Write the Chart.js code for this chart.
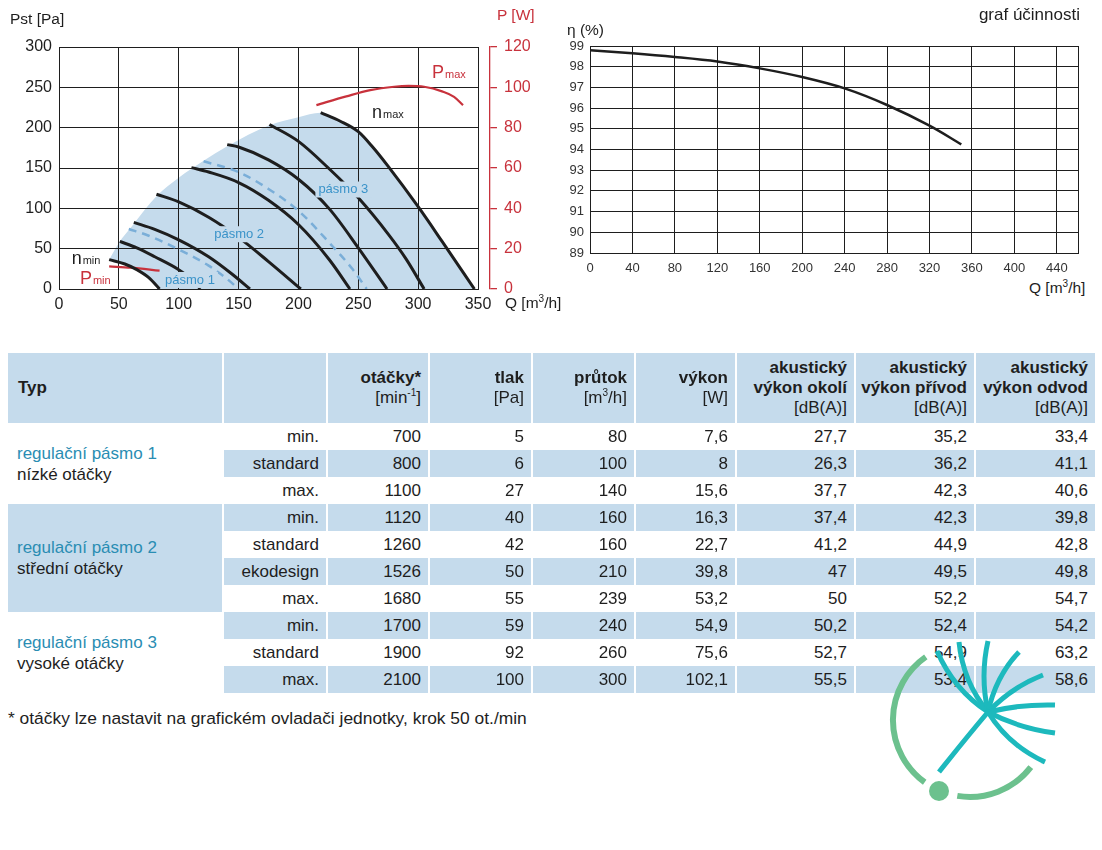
<!DOCTYPE html>
<html lang="cs">
<head>
<meta charset="utf-8">
<title>Charakteristika ventilátoru</title>
<script src="https://cdn.jsdelivr.net/npm/chart.js@4.4.1/dist/chart.umd.min.js"></script>
<style>
  body { margin: 0; background: #fff; font-family: "Liberation Sans", Arial, sans-serif; color: #1e1e1e; }
  #page { position: relative; width: 1102px; height: 850px; overflow: hidden; }
  canvas { position: absolute; }
  .lbl { position: absolute; font-size: 15.5px; line-height: 20px; white-space: nowrap; }
  .red { color: #c8323c; }
  #params { position: absolute; left: 8px; top: 353px; width: 1087px; table-layout: fixed;
            border-collapse: separate; border-spacing: 0; font-size: 17px; }
  #params th, #params td { border-right: 2px solid #fff; padding: 0 7px 0 0; text-align: right;
            vertical-align: middle; white-space: nowrap; overflow: hidden; }
  #params th:last-child, #params td:last-child { border-right: 0; }
  #params th { height: 70px; background: #c5dbec; line-height: 20px; }
  #params th .unit { font-weight: normal; }
  #params th.typ { text-align: left; padding-left: 10px; }
  #params td { height: 27px; line-height: 20px; }
  #params td.grp { text-align: left; padding-left: 9px; line-height: 21px; }
  #params .blue { background: #c5dbec; }
  #params .grpname { color: #2a8db3; }
  sup { font-size: 10px; line-height: 0; }
  #note { position: absolute; left: 8px; top: 708px; font-size: 17.4px; line-height: 20px; }
  #logo { position: absolute; left: 0; top: 0; pointer-events: none; }
</style>
</head>
<body>
<div id="page">
  <canvas id="fan" width="560" height="320" style="left:0;top:0"></canvas>
  <canvas id="eff" width="542" height="275" style="left:560px;top:0"></canvas>

  <div class="lbl" style="left:10px;top:9px">Pst [Pa]</div>
  <div class="lbl red" style="left:497px;top:5px">P [W]</div>
  <div class="lbl" style="left:505px;top:293px">Q [m<sup>3</sup>/h]</div>
  <div class="lbl" style="left:567px;top:20px">η (%)</div>
  <div class="lbl" style="right:22px;top:5px;font-size:17px">graf účinnosti</div>
  <div class="lbl" style="left:1029px;top:278px">Q [m<sup>3</sup>/h]</div>

  <table id="params"></table>
  <div id="note">* otáčky lze nastavit na grafickém ovladači jednotky, krok 50 ot./min</div>

  <svg id="logo" width="1102" height="850" viewBox="0 0 1102 850">
    <g fill="none" stroke="#6cc18e" stroke-width="6">
      <path d="M925.8,656.9 A77,77 0 0 0 924.7,782.3"/>
      <path d="M957.3,795.9 A77,77 0 0 0 1030.8,767.2"/>
    </g>
    <circle cx="939" cy="791" r="10" fill="#6cc18e"/>
    <g fill="none" stroke="#1db9bd" stroke-width="5">
      <path d="M988,712 Q954,690 937,651"/>
      <path d="M988,712 Q963,682 959,642"/>
      <path d="M988,712 Q980,676 988,641"/>
      <path d="M988,712 Q996,676 1019,652"/>
      <path d="M988,712 Q1012,687 1043,675"/>
      <path d="M988,712 Q1021,704 1055,705"/>
      <path d="M988,712 Q1018,728 1055,733"/>
      <path d="M988,712 Q1008,745 1045,762"/>
      <path d="M988,712 Q966,738 939,772"/>
    </g>
  </svg>
</div>

<script>
// ---- fan chart data: Q [m3/h], Pst [Pa] ----
const envelope = [[41.9, 36.4], [50.8, 59], [58.3, 73], [62.5, 81], [81.4, 115], [100, 138],
                  [110.6, 149], [120.8, 159], [140.5, 177], [175.8, 203], [200, 213], [218.6, 218.6]];
const nMin   = [[41.9, 36.4], [55, 31], [65, 24], [75, 14], [84, 0]];
const speed2 = [[50.8, 59], [65, 51], [80, 40], [100, 24], [110, 13], [118, 0]];
const band1  = [[58.3, 74.4], [75, 66], [100, 49], [125, 29], [140, 13], [150, 0]];
const speed3 = [[62.5, 82.6], [80, 74], [100, 61], [125, 40], [145, 18], [159.5, 0]];
const speed4 = [[81.4, 117.5], [100, 108], [125, 89], [150, 64], [175, 34], [202, 0]];
const speed5 = [[110.6, 150.5], [125, 145], [150, 132], [175, 110], [200, 80], [226, 36], [243, 0]];
const band2  = [[120.8, 158.3], [150, 145], [175, 124], [200, 97], [226, 57], [245, 25], [257, 0]];
const speed6 = [[140.5, 179], [150, 176], [175, 160], [200, 136], [226, 99], [250, 51], [274, 0]];
const speed7 = [[175.8, 204], [200, 183], [225, 150], [250, 113], [275, 68], [290, 37], [305, 0]];
const nMax   = [[218.6, 218.6], [235, 208], [250, 195], [262, 176], [275, 152], [300, 102], [320, 59], [347, 0]];

// power curves: Q [m3/h], P [W]
const pMax = [[215, 91.2], [240, 95.5], [260, 98.6], [280, 100.3], [292, 100.7], [305, 100.3], [320, 98], [330, 95.3], [337.5, 91.2]];
const pMin = [[41.9, 11.2], [60, 10.6], [84, 9.1]];

// ---- efficiency chart data ----
const effQ   = [0, 40, 80, 120, 160, 200, 240, 280, 320, 350];
const effVal = [98.8, 98.65, 98.47, 98.25, 97.92, 97.5, 96.95, 96.15, 95.15, 94.25];
const effTicks = [0, 40, 80, 120, 160, 200, 240, 280, 320, 360, 400, 440, 460];

// ---- table data ----
const groupNames = ["regulační pásmo 1", "regulační pásmo 2", "regulační pásmo 3"];
const groupSub   = ["nízké otáčky", "střední otáčky", "vysoké otáčky"];
const groupSize  = [3, 4, 3];
const modes    = ["min.", "standard", "max.", "min.", "standard", "ekodesign", "max.", "min.", "standard", "max."];
const rpm      = [700, 800, 1100, 1120, 1260, 1526, 1680, 1700, 1900, 2100];
const pressure = [5, 6, 27, 40, 42, 50, 55, 59, 92, 100];
const flow     = [80, 100, 140, 160, 160, 210, 239, 240, 260, 300];
const power    = [7.6, 8, 15.6, 16.3, 22.7, 39.8, 53.2, 54.9, 75.6, 102.1];
const soundAmb = [27.7, 26.3, 37.7, 37.4, 41.2, 47, 50, 50.2, 52.7, 55.5];
const soundSup = [35.2, 36.2, 42.3, 42.3, 44.9, 49.5, 52.2, 52.4, 54.9, 53.4];
const soundExh = [33.4, 41.1, 40.6, 39.8, 42.8, 49.8, 54.7, 54.2, 63.2, 58.6];

const RED = "#c8323c";
const INK = "#1e1e1e";
const FILL = "#c5dbec";
const BANDBLUE = "#7aaed8";

Chart.defaults.font.family = '"Liberation Sans", Arial, sans-serif';
Chart.defaults.color = INK;

const pts = arr => arr.map(p => ({ x: p[0], y: p[1] }));

function curve(arr, opts) {
  return Object.assign({ data: pts(arr), borderColor: INK, borderWidth: 3, pointRadius: 0, fill: false }, opts);
}

// label with a small subscript, e.g. n max
function subLabel(ctx, main, sub, x, y, color) {
  ctx.fillStyle = color;
  ctx.textAlign = "left";
  ctx.textBaseline = "alphabetic";
  ctx.font = '18px "Liberation Sans", Arial';
  ctx.fillText(main, x, y);
  const w = ctx.measureText(main).width;
  ctx.font = '11px "Liberation Sans", Arial';
  ctx.fillText(sub, x + w + 1, y);
}

// blue band label on a fill-coloured patch
function bandLabel(ctx, text, x, y) {
  ctx.font = '13px "Liberation Sans", Arial';
  const w = ctx.measureText(text).width;
  ctx.fillStyle = FILL;
  ctx.fillRect(x - w / 2 - 3, y - 8, w + 6, 16);
  ctx.fillStyle = "#3a93c9";
  ctx.textAlign = "center";
  ctx.textBaseline = "middle";
  ctx.fillText(text, x, y);
}

const fanNotes = {
  id: "fanNotes",
  afterLayout(chart) {
    // move the red power axis a bit away from the plot frame
    const p = chart.scales.p;
    p.left += 12;
    p.right += 12;
    p._labelItems = null;
    p._gridLineItems = null;
  },
  afterDatasetsDraw(chart) {
    const { ctx, scales } = chart;
    const px = v => scales.x.getPixelForValue(v);
    const py = v => scales.y.getPixelForValue(v);
    ctx.save();
    subLabel(ctx, "n", "max", px(261.5), py(212.6), INK);
    subLabel(ctx, "P", "max", px(311.6), py(261.6), RED);
    subLabel(ctx, "n", "min", px(10.6), py(31.6), INK);
    subLabel(ctx, "P", "min", px(17.5), py(6.2), RED);
    bandLabel(ctx, "pásmo 1", px(109.4), py(11.2));
    bandLabel(ctx, "pásmo 2", px(150.5), py(67.9));
    bandLabel(ctx, "pásmo 3", px(237.5), py(123.3));
    ctx.restore();
  }
};

const fanChart = new Chart(document.getElementById("fan"), {
  type: "line",
  data: {
    datasets: [
      // shaded working area: upper edge filled down to the lower edge (dataset 1)
      { data: pts(envelope.concat(nMax.slice(1))), borderWidth: 0, pointRadius: 0, backgroundColor: FILL, fill: 1 },
      { data: pts(nMin.concat([[347, 0]])), borderWidth: 0, pointRadius: 0, fill: false },
      curve(nMin),
      curve(speed2),
      curve(band1, { borderColor: BANDBLUE, borderWidth: 2.5, borderDash: [8, 6] }),
      curve(speed3),
      curve(speed4),
      curve(speed5),
      curve(band2, { borderColor: BANDBLUE, borderWidth: 2.5, borderDash: [8, 6] }),
      curve(speed6),
      curve(speed7),
      curve(nMax),
      curve(pMax, { borderColor: RED, borderWidth: 2.2, yAxisID: "p" }),
      curve(pMin, { borderColor: RED, borderWidth: 2.2, yAxisID: "p" })
    ]
  },
  options: {
    responsive: false,
    animation: false,
    layout: { padding: { top: 47, left: 0, right: 0, bottom: 0 } },
    elements: { line: { cubicInterpolationMode: "monotone" } },
    plugins: {
      legend: { display: false },
      tooltip: { enabled: false },
      filler: { drawTime: "beforeDraw" }
    },
    scales: {
      x: {
        type: "linear", min: 0, max: 350,
        ticks: { stepSize: 50, font: { size: 16 }, padding: 6, color: INK },
        grid: { color: INK, lineWidth: 1, drawTicks: false },
        border: { color: INK },
        afterFit: a => { a.height = 31; }
      },
      y: {
        min: 0, max: 300,
        ticks: { stepSize: 50, font: { size: 16 }, padding: 7, color: INK },
        grid: { color: INK, lineWidth: 1, drawTicks: false },
        border: { color: INK },
        afterFit: a => { a.width = 59; }
      },
      p: {
        position: "right", min: 0, max: 120,
        ticks: { stepSize: 20, font: { size: 16 }, padding: 7, color: RED },
        grid: { drawOnChartArea: false, color: RED, lineWidth: 1.3, tickLength: 7 },
        border: { color: RED, width: 1.3 },
        afterFit: a => { a.width = 82; }
      }
    }
  },
  plugins: [fanNotes]
});

const effChart = new Chart(document.getElementById("eff"), {
  type: "line",
  data: {
    datasets: [{
      data: effQ.map((q, i) => ({ x: q, y: effVal[i] })),
      borderColor: INK, borderWidth: 2.5, pointRadius: 0, fill: false,
      cubicInterpolationMode: "monotone"
    }]
  },
  options: {
    responsive: false,
    animation: false,
    layout: { padding: { top: 46, right: 24, left: 0, bottom: 0 } },
    plugins: { legend: { display: false }, tooltip: { enabled: false } },
    scales: {
      x: {
        type: "linear", min: 0, max: 460,
        afterBuildTicks: a => { a.ticks = effTicks.map(v => ({ value: v })); },
        ticks: { font: { size: 13 }, padding: 8, color: "#333", maxRotation: 0,
                 callback: v => (v === 460 ? "" : v) },
        grid: { color: INK, lineWidth: 1, drawTicks: false },
        border: { color: INK },
        afterFit: a => { a.height = 22; }
      },
      y: {
        min: 89, max: 99,
        ticks: { stepSize: 1, font: { size: 13 }, padding: 6, color: "#333" },
        grid: { color: INK, lineWidth: 1, drawTicks: false },
        border: { color: INK },
        afterFit: a => { a.width = 30; }
      }
    }
  }
});

// ---- parameter table ----
const dec = v => String(v).replace(".", ",");
const colWidths = [216, 104, 102, 103, 103, 101, 119, 120, 119];
const headTitles = ["otáčky*", "tlak", "průtok", "výkon", "akustický<br>výkon okolí", "akustický<br>výkon přívod", "akustický<br>výkon odvod"];
const headUnits = ["[min<sup>-1</sup>]", "[Pa]", "[m<sup>3</sup>/h]", "[W]", "[dB(A)]", "[dB(A)]", "[dB(A)]"];

let html = "<colgroup>" + colWidths.map(w => `<col style="width:${w}px">`).join("") + "</colgroup>";
html += '<tr><th class="typ">Typ</th><th></th>' +
  headTitles.map((t, i) => `<th>${t}<br><span class="unit">${headUnits[i]}</span></th>`).join("") + "</tr>";

let row = 0;
groupNames.forEach((name, g) => {
  for (let k = 0; k < groupSize[g]; k++) {
    const cls = row % 2 === 1 ? ' class="blue"' : "";
    html += "<tr>";
    if (k === 0) {
      const gcls = g === 1 ? "grp blue" : "grp";
      html += `<td class="${gcls}" rowspan="${groupSize[g]}"><span class="grpname">${name}</span><br>${groupSub[g]}</td>`;
    }
    const cells = [modes[row], rpm[row], pressure[row], flow[row], dec(power[row]),
                   dec(soundAmb[row]), dec(soundSup[row]), dec(soundExh[row])];
    html += cells.map(c => `<td${cls}>${c}</td>`).join("");
    html += "</tr>";
    row++;
  }
});
document.getElementById("params").innerHTML = html;
</script>
</body>
</html>
